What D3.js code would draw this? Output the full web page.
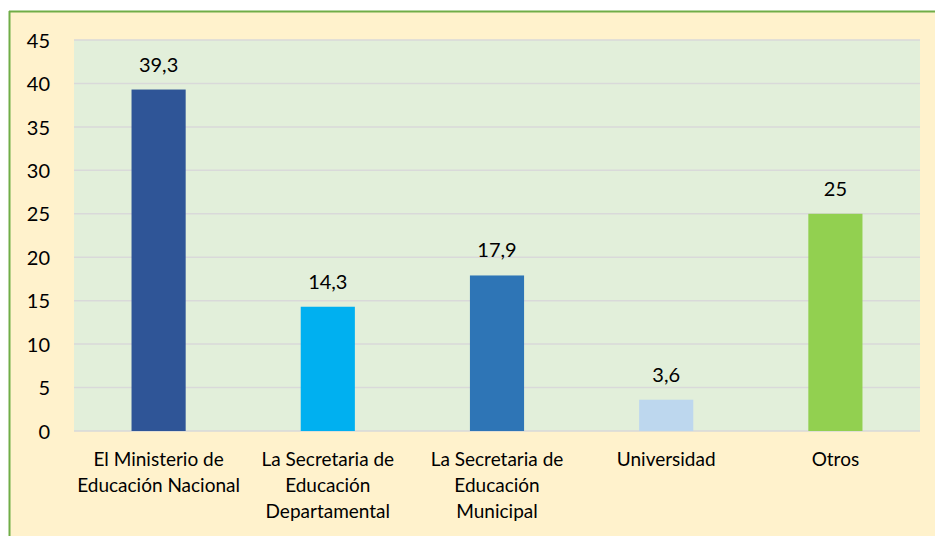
<!DOCTYPE html>
<html>
<head>
<meta charset="utf-8">
<script src="https://cdn.jsdelivr.net/npm/d3@7"></script>
<style>
  body { margin: 0; background: #ffffff; }
  text { font-family: Lato, "Open Sans", sans-serif; fill: #000000; }
</style>
</head>
<body>
<svg width="935" height="536"></svg>
<script>
// data
var categories = [
  ["El Ministerio de", "Educación Nacional"],
  ["La Secretaria de", "Educación", "Departamental"],
  ["La Secretaria de", "Educación", "Municipal"],
  ["Universidad"],
  ["Otros"]
];
var values = [39.3, 14.3, 17.9, 3.6, 25];
var labels = ["39,3", "14,3", "17,9", "3,6", "25"];
var colors = ["#2F5597", "#00B0F0", "#2E75B6", "#BDD7EE", "#92D050"];
var yTicks = [0, 5, 10, 15, 20, 25, 30, 35, 40, 45];

var svgWidth = 935, svgHeight = 536;
var plotLeft = 74, plotRight = 920, plotTop = 40, plotBottom = 431;

var svg = d3.select("svg");

// outer chart area
svg.append("rect")
    .attr("x", 9).attr("y", 11)
    .attr("width", svgWidth - 9).attr("height", svgHeight - 11)
    .attr("fill", "#FFF2CC");
svg.append("line")
    .attr("x1", 9.5).attr("x2", 9.5).attr("y1", 11).attr("y2", svgHeight)
    .attr("stroke", "#70AD47").attr("stroke-width", 2);
svg.append("line")
    .attr("x1", 9).attr("x2", svgWidth).attr("y1", 11.5).attr("y2", 11.5)
    .attr("stroke", "#70AD47").attr("stroke-width", 2);

// plot area
svg.append("rect")
    .attr("x", plotLeft).attr("y", plotTop)
    .attr("width", plotRight - plotLeft).attr("height", plotBottom - plotTop)
    .attr("fill", "#E2EFDA");

var x = d3.scaleBand()
    .domain(d3.range(values.length))
    .range([plotLeft, plotRight])
    .paddingInner(0.68)
    .paddingOuter(0.34);

var y = d3.scaleLinear()
    .domain([0, 45])
    .range([plotBottom, plotTop]);

// gridlines
svg.selectAll(".grid")
    .data(yTicks)
    .enter()
    .append("line")
    .attr("class", "grid")
    .attr("x1", plotLeft).attr("x2", plotRight)
    .attr("y1", function(d) { return y(d); })
    .attr("y2", function(d) { return y(d); })
    .attr("stroke", "#D9D9D9")
    .attr("stroke-width", 1.5);

// y axis labels
var yAxis = svg.append("g")
    .attr("transform", "translate(" + (plotLeft - 24) + ",0)")
    .call(d3.axisLeft(y).tickValues(yTicks).tickSize(0).tickPadding(0));
yAxis.select(".domain").remove();
yAxis.selectAll("text")
    .style("font-size", "20px")
    .attr("dy", "0.36em");

// bars
svg.selectAll(".bar")
    .data(values)
    .enter()
    .append("rect")
    .attr("class", "bar")
    .attr("x", function(d, i) { return x(i); })
    .attr("width", x.bandwidth())
    .attr("y", function(d) { return y(d); })
    .attr("height", function(d) { return y(0) - y(d); })
    .attr("fill", function(d, i) { return colors[i]; });

// value labels
svg.selectAll(".val")
    .data(values)
    .enter()
    .append("text")
    .attr("class", "val")
    .attr("x", function(d, i) { return x(i) + x.bandwidth() / 2; })
    .attr("y", function(d) { return y(d) - 18; })
    .attr("text-anchor", "middle")
    .style("font-size", "20px")
    .text(function(d, i) { return labels[i]; });

// category labels
var cat = svg.selectAll(".cat")
    .data(categories)
    .enter()
    .append("text")
    .attr("class", "cat")
    .attr("x", function(d, i) { return x(i) + x.bandwidth() / 2; })
    .attr("y", plotBottom + 35)
    .attr("text-anchor", "middle")
    .style("font-size", "19px");
cat.selectAll("tspan")
    .data(function(d) { return d; })
    .enter()
    .append("tspan")
    .attr("x", function() { return d3.select(this.parentNode).attr("x"); })
    .attr("dy", function(d, i) { return i === 0 ? 0 : 26; })
    .text(function(d) { return d; });
</script>
</body>
</html>
